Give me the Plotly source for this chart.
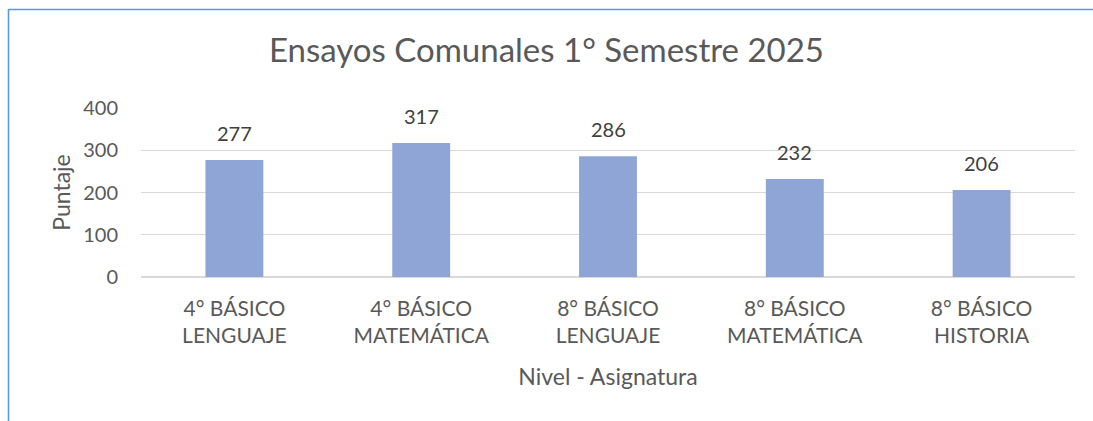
import plotly.graph_objects as go

categories = ["4° BÁSICO<br>LENGUAJE", "4° BÁSICO<br>MATEMÁTICA", "8° BÁSICO<br>LENGUAJE",
              "8° BÁSICO<br>MATEMÁTICA", "8° BÁSICO<br>HISTORIA"]
values = [277, 317, 286, 232, 206]
y_ticks = [0, 100, 200, 300, 400]

FONT = "Lato"
W, H = 1093, 421
L, R, T, B = 141, 18, 108, 144
pw, ph = W - L - R, H - T - B

fig = go.Figure()
fig.add_trace(go.Bar(x=categories, y=values, marker=dict(color="#8FA5D5", line=dict(width=0)),
                     width=0.31, hoverinfo="skip"))

for c, v in zip(categories, values):
    fig.add_annotation(x=c, y=v, text=str(v), showarrow=False, yanchor="bottom", yshift=13,
                       font=dict(family=FONT, size=20, color="#404040"))

def px_x(p):
    return (p - L) / pw

def px_y(p):
    return 1 - (p - T) / ph

line_col = "#5B9BD5"
fig.add_shape(type="line", xref="paper", yref="paper", x0=px_x(8.5), x1=px_x(8.5),
              y0=px_y(9), y1=px_y(425), line=dict(color=line_col, width=1.6))
fig.add_shape(type="line", xref="paper", yref="paper", x0=px_x(8.5), x1=px_x(1100),
              y0=px_y(9.5), y1=px_y(9.5), line=dict(color=line_col, width=1.6))

fig.update_layout(
    width=W, height=H,
    margin=dict(l=L, r=R, t=T, b=B, pad=0),
    paper_bgcolor="white", plot_bgcolor="white",
    showlegend=False,
    font=dict(family=FONT, color="#595959"),
    title=dict(text="Ensayos Comunales 1° Semestre 2025", x=0.5, xanchor="center",
               y=1 - 50 / H, yanchor="middle",
               font=dict(family=FONT, size=33, color="#595959")),
    xaxis=dict(showgrid=False, showline=False, ticks="", tickfont=dict(family=FONT, size=21, color="#595959"),
               ticklabelstandoff=17,
               title=dict(text="Nivel - Asignatura", font=dict(family=FONT, size=23, color="#595959"), standoff=22)),
    yaxis=dict(range=[0, 400], tickvals=y_ticks, showgrid=True, gridcolor="#D9D9D9", gridwidth=1.2,
               zeroline=True, zerolinecolor="#D9D9D9", zerolinewidth=1.5, showline=False, ticks="",
               ticklen=0, tickfont=dict(family=FONT, size=20, color="#595959"), ticklabelstandoff=22,
               title=dict(text="Puntaje", font=dict(family=FONT, size=23, color="#595959"), standoff=6)),
    bargap=0.69,
)

fig.write_html("out.html", post_script="document.body.style.margin='0';",
               config={"displayModeBar": False})
